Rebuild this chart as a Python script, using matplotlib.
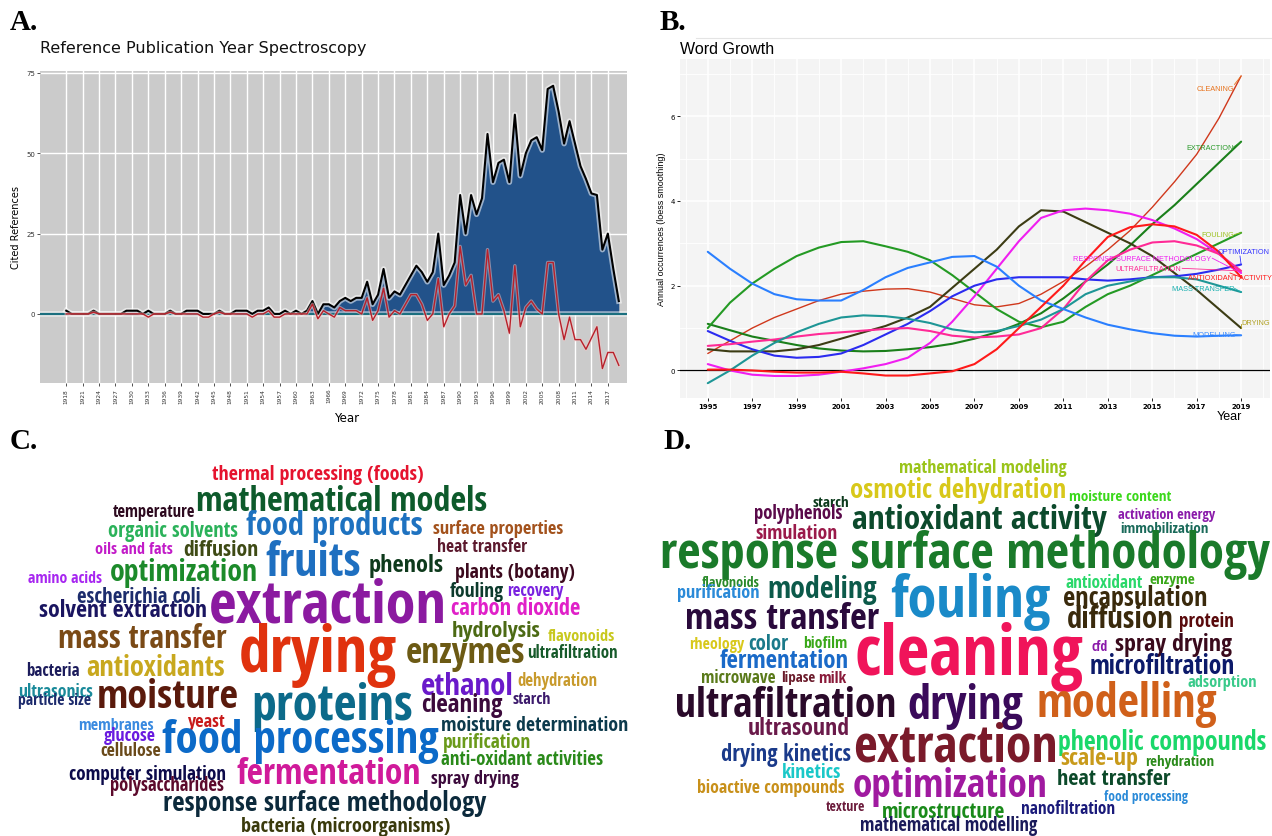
import numpy as np
import matplotlib
matplotlib.use('Agg')
import matplotlib.pyplot as plt
import matplotlib.patheffects as pe
from matplotlib.lines import Line2D
from matplotlib import font_manager as fm
from matplotlib.ft2font import FT2Font
import logging
logging.getLogger('matplotlib.font_manager').setLevel(logging.ERROR)

W, H = 1272, 837

# ---------------- Panel A data ----------------
years_a = list(range(1918, 2020))
cited_refs = [
    1, 0, 0, 0, 0, 1, 0, 0, 0, 0,
    0, 1, 1, 1, 0, 1, 0, 0, 0, 1,
    0, 0, 1, 1, 1, 0, 0, 0, 1, 0,
    0, 1, 1, 1, 0, 1, 1, 2, 0, 0,
    1, 0, 1, 0, 1, 4, 0, 3, 3, 2,
    4, 5, 4, 5, 5, 10, 3, 6, 14, 5,
    7, 6, 9, 12, 15, 13, 10, 13, 25, 9,
    12, 16, 37, 25, 37, 31, 36, 56, 41, 47,
    48, 41, 62, 43, 50, 54, 55, 51, 70, 71,
    63, 53, 60, 53, 46, 42, 37.5, 37, 20, 25,
    14, 4]
median_dev = [
    0, 0, 0, 0, 0, 0.5, 0, 0, 0, 0,
    0, 0, 0, 0, 0, -1, 0, 0, 0, 0.5,
    0, 0, 0, 0, 0, -1, -1, 0, 0.5, 0,
    0, 0, 0, 0, -1, 0, 0, 1, -1, -1,
    0, 0, 0, 0, 0, 3, -1.5, 1, 0, -1,
    2, 1, 1, 1, 0, 5, -2, 1, 8, -1,
    1, 0, 3, 6, 6, 3, -2, 0, 11, -4,
    0, 2.5, 21, 9, 12, 0, 0, 20, 4, 6,
    1, -6, 15, -4, 2, 4, 1.5, 0, 16, 16,
    0, -8, -1, -8, -8, -11, -7.5, -4, -17, -12,
    -12, -16]
a_xticks = list(range(1918, 2018, 3))
a_yticks = [0, 25, 50, 75]

# ---------------- Panel B data ----------------
years_b = list(range(1995, 2020))
cleaning = [0.4, 0.7, 1.0, 1.25, 1.45, 1.65, 1.8, 1.87, 1.92, 1.93, 1.85, 1.7, 1.55,
            1.5, 1.58, 1.8, 2.1, 2.45, 2.85, 3.3, 3.85, 4.45, 5.1, 5.95, 6.95]
extraction = [1.1, 0.95, 0.8, 0.7, 0.6, 0.52, 0.47, 0.45, 0.46, 0.5, 0.55, 0.63, 0.75,
              0.9, 1.1, 1.35, 1.7, 2.1, 2.5, 2.95, 3.45, 3.9, 4.4, 4.9, 5.4]
fouling = [1.0, 1.6, 2.05, 2.4, 2.7, 2.9, 3.03, 3.05, 2.93, 2.8, 2.6, 2.25, 1.85,
           1.45, 1.15, 1.02, 1.15, 1.5, 1.8, 2.0, 2.25, 2.5, 2.75, 3.0, 3.25]
drying = [0.5, 0.45, 0.45, 0.45, 0.5, 0.6, 0.75, 0.9, 1.05, 1.25, 1.5, 1.95, 2.4,
          2.85, 3.4, 3.78, 3.75, 3.5, 3.25, 3.0, 2.7, 2.3, 1.9, 1.45, 1.0]
rsm = [0.15, 0.0, -0.1, -0.13, -0.13, -0.1, -0.03, 0.05, 0.15, 0.3, 0.65, 1.15, 1.75,
       2.4, 3.05, 3.6, 3.78, 3.82, 3.78, 3.7, 3.55, 3.35, 3.1, 2.75, 2.3]
optimization = [0.93, 0.7, 0.5, 0.35, 0.3, 0.32, 0.4, 0.6, 0.85, 1.1, 1.4, 1.75, 2.0,
                2.15, 2.2, 2.2, 2.2, 2.15, 2.12, 2.15, 2.2, 2.22, 2.28, 2.38, 2.5]
ultrafiltration = [0.58, 0.62, 0.68, 0.73, 0.8, 0.86, 0.9, 0.94, 0.98, 1.0, 0.93, 0.82, 0.78,
                   0.8, 0.85, 1.0, 1.45, 2.1, 2.6, 2.85, 3.02, 3.05, 2.95, 2.75, 2.35]
mass_transfer = [-0.3, 0.0, 0.35, 0.65, 0.9, 1.1, 1.25, 1.3, 1.28, 1.22, 1.12, 0.97, 0.9,
                 0.93, 1.05, 1.2, 1.45, 1.8, 2.0, 2.1, 2.2, 2.2, 2.15, 2.0, 1.85]
modelling = [2.8, 2.4, 2.05, 1.8, 1.68, 1.65, 1.65, 1.9, 2.2, 2.42, 2.55, 2.68, 2.7,
             2.45, 2.0, 1.65, 1.45, 1.25, 1.08, 0.97, 0.88, 0.82, 0.8, 0.82, 0.83]
antioxidant_activity = [0.02, 0.02, 0.0, -0.03, -0.05, -0.05, -0.03, -0.07, -0.12, -0.12, -0.07,
                        -0.02, 0.15, 0.5, 1.0, 1.5, 2.0, 2.6, 3.15, 3.38, 3.45, 3.4, 3.2, 2.8, 2.2]
b_terms = ['CLEANING', 'EXTRACTION', 'FOULING', 'DRYING', 'RESPONSE SURFACE METHODOLOGY',
           'OPTIMIZATION', 'ULTRAFILTRATION', 'MASS TRANSFER', 'MODELLING', 'ANTIOXIDANT ACTIVITY']
b_series = [cleaning, extraction, fouling, drying, rsm, optimization, ultrafiltration,
            mass_transfer, modelling, antioxidant_activity]

# styles for panel B (line colour, label colour, line width)
b_line_colors = ['#D0381C', '#1A7F1A', '#249A24', '#3C3C14', '#F01EF0', '#2B2BF0',
                 '#FF2A96', '#1E9696', '#2A7FFF', '#FF1A1A']
b_label_colors = ['#E8741E', '#2A9A2A', '#9CC21F', '#B0A020', '#F01EF0', '#3333FF',
                  '#FF2A96', '#1AB0B0', '#3A8AFF', '#FF1A1A']
b_line_widths = [1.0, 1.5, 1.5, 1.5, 1.5, 1.5, 1.5, 1.5, 1.5, 1.5]
# label layout: (x, y, ha, leader start x, leader start y)
b_label_layout = [(2018.7, 6.65, 'right', 2018.7, 6.75),
                  (2018.65, 5.27, 'right', 2018.65, 5.27),
                  (2018.7, 3.21, 'right', 2018.7, 3.21),
                  (2019.0, 1.14, 'left', 2019.0, 1.1),
                  (2017.65, 2.65, 'right', 2017.7, 2.65),
                  (2017.96, 2.81, 'left', 2018.95, 2.7),
                  (2016.3, 2.41, 'right', 2016.35, 2.41),
                  (2018.7, 1.94, 'right', 2018.7, 1.94),
                  (2018.75, 0.85, 'right', 2018.75, 0.85),
                  (2016.6, 2.19, 'left', 2018.5, 2.3)]

# ---------------- Word cloud C ----------------
words_c = ['thermal processing (foods)', 'mathematical models', 'temperature', 'organic solvents',
           'food products', 'surface properties', 'oils and fats', 'diffusion', 'heat transfer',
           'fruits', 'phenols', 'plants (botany)', 'amino acids', 'optimization', 'escherichia coli',
           'extraction', 'fouling', 'recovery', 'solvent extraction', 'carbon dioxide', 'hydrolysis',
           'flavonoids', 'mass transfer', 'drying', 'enzymes', 'ultrafiltration', 'bacteria',
           'antioxidants', 'ethanol', 'dehydration', 'ultrasonics', 'moisture', 'particle size',
           'proteins', 'cleaning', 'starch', 'membranes', 'yeast', 'moisture determination',
           'glucose', 'food processing', 'purification', 'cellulose', 'anti-oxidant activities',
           'computer simulation', 'fermentation', 'spray drying', 'polysaccharides',
           'response surface methodology', 'bacteria (microorganisms)']
colors_c = ['#E5132E', '#0D5A2B', '#2D0A1F', '#2BB25A', '#1E72C0', '#A3521C', '#C21BC8', '#3E4A14',
            '#5C1A2E', '#1E6FC0', '#0E3A1C', '#3C0A1E', '#A726F0', '#1C8A2A', '#1C2C6C', '#8B1AA0',
            '#0C3A2C', '#7A22E0', '#1A1560', '#E020C8', '#4C6A14', '#C8C81E', '#7A4A16', '#E0320E',
            '#6C5A14', '#165A2A', '#1C1C5C', '#C8A81E', '#6A1ACA', '#C89A2C', '#1A8A9A', '#5A1A0C',
            '#1C2A6C', '#0C6A8A', '#3C0A3C', '#3C1A6C', '#3A8AE0', '#C81A1A', '#0C3A4C', '#6A1AE0',
            '#0C6AC8', '#6A9A1A', '#6A4A1A', '#2A8A1A', '#0C0A4A', '#D01A9A', '#3C0A3C', '#5C0A2C',
            '#0C2A3C', '#3A3A0C']
layout_c = [(212.5, 422.6, 476.7), (196, 487, 501.7), (112.8, 194.9, 516.7), (107.5, 238, 531),
            (240, 428.7, 526.7), (432.8, 563, 529), (90, 178.5, 552), (180.5, 260.5, 550.7),
            (434, 530, 546.7), (262.6, 364.3, 563.3), (368.4, 443, 567.7), (455.4, 575, 573.3),
            (28, 102.6, 581), (105.8, 262.6, 573.3), (73, 205, 597.7), (209, 447, 606.7),
            (448, 505.4, 591.7), (505.4, 565.3, 591), (39, 207, 615.7), (450.5, 580.5, 609.3),
            (449, 543.6, 631), (547.7, 614.6, 637.7), (52, 232, 639), (233.8, 402, 655),
            (406, 525, 653), (527, 617.4, 653.3), (26.7, 80, 670.7), (81.2, 229, 668.3),
            (418.5, 515, 681.7), (517, 597, 680), (18.5, 93.5, 686.7), (96.4, 244, 698.3),
            (16.4, 93.5, 700.7), (246, 418.5, 706.7), (419, 505.4, 705), (508, 551.8, 700),
            (73, 159, 721), (185.4, 225.6, 721.7), (441, 627.7, 726), (101.7, 157, 736),
            (162, 439, 742), (441, 534, 743.3), (100.5, 160.8, 750.7), (441, 603, 760),
            (69, 225.6, 770.7), (230.6, 426.7, 775), (430.8, 519, 775), (105.8, 227.7, 786),
            (163.3, 486, 803.3), (231.8, 458.7, 822.7)]

# ---------------- Word cloud D ----------------
words_d = ['mathematical modeling', 'osmotic dehydration', 'moisture content', 'starch', 'polyphenols',
           'antioxidant activity', 'activation energy', 'simulation', 'immobilization',
           'response surface methodology', 'flavonoids', 'modeling', 'fouling', 'antioxidant',
           'enzyme', 'purification', 'encapsulation', 'mass transfer', 'diffusion', 'protein',
           'rheology', 'color', 'biofilm', 'cleaning', 'cfd', 'spray drying', 'fermentation',
           'microfiltration', 'microwave', 'lipase', 'milk', 'adsorption', 'ultrafiltration',
           'drying', 'modelling', 'ultrasound', 'extraction', 'phenolic compounds',
           'drying kinetics', 'scale-up', 'rehydration', 'kinetics', 'optimization',
           'heat transfer', 'bioactive compounds', 'food processing', 'texture', 'microstructure',
           'nanofiltration', 'mathematical modelling']
colors_d = ['#9AC41A', '#D8C81A', '#3AD81A', '#0C3A1C', '#5A0A4A', '#0C4A2C', '#8A1AAA', '#9A1A4A',
            '#1A6A5A', '#1A7A2A', '#2A8A2A', '#0C5A4A', '#1A8AC8', '#2AD86A', '#3AA81A', '#2A8AD8',
            '#3A2A0C', '#2A0A3C', '#3A2A0C', '#5A0A0C', '#D8C81A', '#1A7A8A', '#3AA81A', '#F0145A',
            '#8A1AAA', '#3A0A1C', '#1A6AC8', '#0C1A6A', '#5A7A1A', '#6A1A2A', '#8A1A3A', '#3ACA8A',
            '#2A0A2A', '#3A0A5A', '#D0601A', '#6A1A4A', '#7A1A2A', '#1AD86A', '#1A3A8A', '#C89A1A',
            '#2A8A1A', '#1AC8C8', '#A01AA0', '#0C4A2A', '#C8901A', '#2A8AD8', '#6A1A3A', '#1A8A1A',
            '#1A1A7A', '#1A1A5A']
layout_d = [(892, 1074.4, 472.7), (850, 1066, 493.3), (1068.7, 1170.8, 498.3), (811, 850, 502.7),
            (753.4, 842.6, 517.7), (844.6, 1114.9, 520.7), (1118, 1214.5, 516), (753.4, 840.6, 534),
            (1117.3, 1211.3, 529.3), (660.3, 1270, 555), (700, 761.6, 583.3), (763.6, 879.9, 590),
            (885, 1055.3, 601.7), (1063.4, 1145.7, 582.7), (1148.5, 1197, 580), (675.7, 761.6, 598.3),
            (1063.4, 1207.3, 598.3), (678.5, 885, 620), (1063.4, 1176.9, 620), (1179, 1233.6, 620),
            (687.8, 746.2, 645), (747.4, 790, 645), (802, 848.7, 644), (854.7, 1083.7, 656.7),
            (1091.8, 1108, 646.7), (1112, 1235.6, 645), (719, 848.7, 661.7), (1089.8, 1235.6, 666.7),
            (698.8, 777.8, 678.3), (779.8, 816.3, 678.3), (817.5, 847.5, 679.3), (1185, 1259, 683.3),
            (668.4, 903.4, 706.7), (904, 1027, 706.7), (1031, 1223.5, 705), (744.5, 852.7, 729.3),
            (852.7, 1057.3, 748.3), (1058, 1267, 738.3), (721, 850.7, 755), (1057.3, 1140.4, 759.3),
            (1142.4, 1217.4, 757.3), (779.8, 842.6, 772.7), (846.6, 1053.3, 786.7),
            (1055.3, 1168.8, 780), (697.5, 844.6, 788.3), (1102, 1191, 796.7), (824.4, 866.1, 807.3),
            (878.2, 1009.5, 812.7), (1018.8, 1118, 809.3), (859.6, 1037, 828.5)]

# ---------------- Figure ----------------
fig = plt.figure(figsize=(W / 100, H / 100), dpi=100)
fig.patch.set_facecolor('white')
renderer = fig.canvas.get_renderer()


def pick_condensed_bold():
    """Choose the narrowest installed bold sans face (word clouds use a condensed font)."""
    sample = 'abcdefghijklmnopqrstuvwxyz()-'
    ok_prefix = ('DejaVu Sans', 'Liberation Sans', 'Noto Sans', 'Roboto', 'Open Sans', 'Lato', 'Inter')
    best, best_w = None, None
    seen = set()
    for f in fm.fontManager.ttflist:
        name = f.name
        if not name.startswith(ok_prefix):
            continue
        if any(k in name for k in ('Mono', 'CJK', 'Display', 'Math', 'Symbol')):
            continue
        if f.fname in seen or f.fname.lower().endswith('.ttc'):
            continue
        seen.add(f.fname)
        wgt = f.weight
        if isinstance(wgt, str):
            wgt = fm.weight_dict.get(wgt, 400)
        if wgt < 600 or wgt > 800 or f.style != 'normal':
            continue
        try:
            cmap = FT2Font(f.fname).get_charmap()
            if not all(ord(c) in cmap for c in sample):
                continue
            fp = fm.FontProperties(fname=f.fname, size=20)
            wd, ht, dd = renderer.get_text_width_height_descent('extraction processing', fp, ismath=False)
        except Exception:
            continue
        if best_w is None or wd < best_w:
            best, best_w = f.fname, wd
    return best


wc_fname = pick_condensed_bold()

# Panel A
axA = fig.add_axes([40 / W, 1 - 384 / H, 587 / W, 312 / H])
axA.set_facecolor('#CBCBCB')
axA.set_xlim(1913.2, 2020.5)
axA.set_ylim(-21.5, 75.6)
axA.set_xticks(a_xticks)
axA.set_xticklabels([str(v) for v in a_xticks], rotation=90, fontsize=4.2)
axA.set_yticks(a_yticks)
axA.set_yticklabels([str(v) for v in a_yticks], fontsize=5)
axA.grid(True, color='white', lw=1.0)
axA.set_axisbelow(True)
for s in axA.spines.values():
    s.set_visible(False)
axA.tick_params(length=2, width=0.6, pad=1.5, colors='#333333')
glow = [pe.Stroke(linewidth=4, foreground='white', alpha=0.55), pe.Normal()]
axA.fill_between(years_a, 0, cited_refs, color='#22528A', zorder=2, lw=0)
axA.axhline(0, color='#1B6F7F', lw=1.6, zorder=3, path_effects=glow)
axA.plot(years_a, cited_refs, color='black', lw=1.5, zorder=4, path_effects=glow)
axA.plot(years_a, median_dev, color='#B8202A', lw=1.0, zorder=5,
         path_effects=[pe.Stroke(linewidth=2.5, foreground='#F2C8C8', alpha=0.5), pe.Normal()])
axA.set_ylabel('Cited References', fontsize=7, labelpad=4)
axA.set_xlabel('Year', fontsize=8.5, labelpad=3)
axA.xaxis.set_label_coords(0.523, -0.09)
fig.text(40 / W, 1 - 48 / H, 'Reference Publication Year Spectroscopy', fontsize=11.5,
         family='DejaVu Sans', va='center', ha='left', color='#111111')

# Panel B
axB = fig.add_axes([680 / W, 1 - 399 / H, 590 / W, 339 / H])
axB.set_facecolor('#F4F4F4')
axB.set_xlim(1993.75, 2020.3)
axB.set_ylim(-0.65, 7.35)
axB.set_xticks(list(range(1995, 2020, 2)))
axB.set_xticks(list(range(1994, 2021, 2)), minor=True)
axB.set_yticks([0, 2, 4, 6])
axB.set_yticks([1, 3, 5, 7], minor=True)
axB.set_xticklabels([str(v) for v in range(1995, 2020, 2)], fontsize=5, fontweight='bold')
axB.set_yticklabels(['0', '2', '4', '6'], fontsize=5)
axB.grid(which='major', color='white', lw=1.1)
axB.grid(which='minor', color='white', lw=0.6)
axB.set_axisbelow(True)
for s in axB.spines.values():
    s.set_visible(False)
axB.tick_params(which='major', length=2, width=0.6, pad=1.5)
axB.tick_params(which='minor', length=0)
axB.axhline(0, color='black', lw=0.9, zorder=2)
for vals, lc, lw in zip(b_series, b_line_colors, b_line_widths):
    axB.plot(years_b, vals, color=lc, lw=lw, zorder=3, solid_capstyle='round')
for term, vals, tc, (lx, ly, ha, sx, sy) in zip(b_terms, b_series, b_label_colors, b_label_layout):
    axB.plot([sx, years_b[-1]], [sy, vals[-1]], color=tc, lw=0.6, zorder=4)
    axB.text(lx, ly, term, color=tc, fontsize=5.3, ha=ha, va='center',
             family='Liberation Sans', zorder=5)
axB.set_ylabel('Annual occurrences (loess smoothing)', fontsize=6.5, labelpad=3,
               family='Liberation Sans')
axB.set_xlabel('Year', fontsize=9, family='Liberation Sans', labelpad=0)
axB.xaxis.set_label_coords((1229 - 680) / 590, -0.035)
fig.text(680 / W, 1 - 50 / H, 'Word Growth', fontsize=11.5, family='Liberation Sans',
         va='center', ha='left')
fig.add_artist(Line2D([696 / W, 1.0], [1 - 38.6 / H] * 2, color='#E4E4E4', lw=0.8))

# Panel letters
for lab, (px, py) in zip(['A.', 'B.', 'C.', 'D.'], [(10, 22), (660, 22), (10, 442), (663, 442)]):
    fig.text(px / W, 1 - py / H, lab, fontsize=21, fontweight='bold', family='Liberation Serif',
             va='center', ha='left')

# Word clouds: fit each word to its width, then shrink slightly / nudge it so that its
# text box keeps clear of the boxes of bigger words already placed.
axW = fig.add_axes([0, 0, 1, 1], zorder=10)
axW.set_xlim(0, W)
axW.set_ylim(H, 0)
axW.axis('off')
axW.patch.set_alpha(0)

items = []
for words, cols, lay in [(words_c, colors_c, layout_c), (words_d, colors_d, layout_d)]:
    for word, col, (x0, x1, yc) in zip(words, cols, lay):
        if wc_fname:
            fp = fm.FontProperties(fname=wc_fname, size=20)
            t = axW.text((x0 + x1) / 2, yc, word, color=col, ha='center', va='center',
                         fontproperties=fp)
        else:
            t = axW.text((x0 + x1) / 2, yc, word, color=col, fontsize=20, ha='center',
                         va='center', family='DejaVu Sans', fontweight='bold')
        bw = t.get_window_extent(renderer).width
        fs0 = 20 * (x1 - x0) / bw
        t.set_fontsize(fs0)
        items.append((fs0 * (x1 - x0), fs0, t, (x0 + x1) / 2, yc))

items.sort(key=lambda it: -it[0])
placed = []
scales = [1.0, 0.96, 0.92, 0.88]
shifts = [0, -1, 1, -2, 2, -3, 3, -4, 4, -5, 5]
hshifts = [0, -2, 2]


def fits(bb):
    if bb.x0 < 0 or bb.x1 > W or bb.y0 < 0 or bb.y1 > H:
        return False
    for p in placed:
        if bb.x0 < p.x1 - 0.5 and p.x0 < bb.x1 - 0.5 and bb.y0 < p.y1 - 0.5 and p.y0 < bb.y1 - 0.5:
            return False
    return True


for _, fs0, t, cx, yc in items:
    done = False
    for s in scales:
        for dy in shifts:
            for dx in hshifts:
                t.set_fontsize(fs0 * s)
                t.set_position((cx + dx, yc + dy))
                bb = t.get_window_extent(renderer)
                if fits(bb):
                    done = True
                    break
            if done:
                break
        if done:
            break
    if not done:
        t.set_fontsize(fs0 * 0.94)
        t.set_position((cx, yc))
        bb = t.get_window_extent(renderer)
        if bb.y0 < 0:
            t.set_position((cx, yc + bb.y0 - 1))
            bb = t.get_window_extent(renderer)
    placed.append(bb)

fig.savefig('out.png', dpi=100)
